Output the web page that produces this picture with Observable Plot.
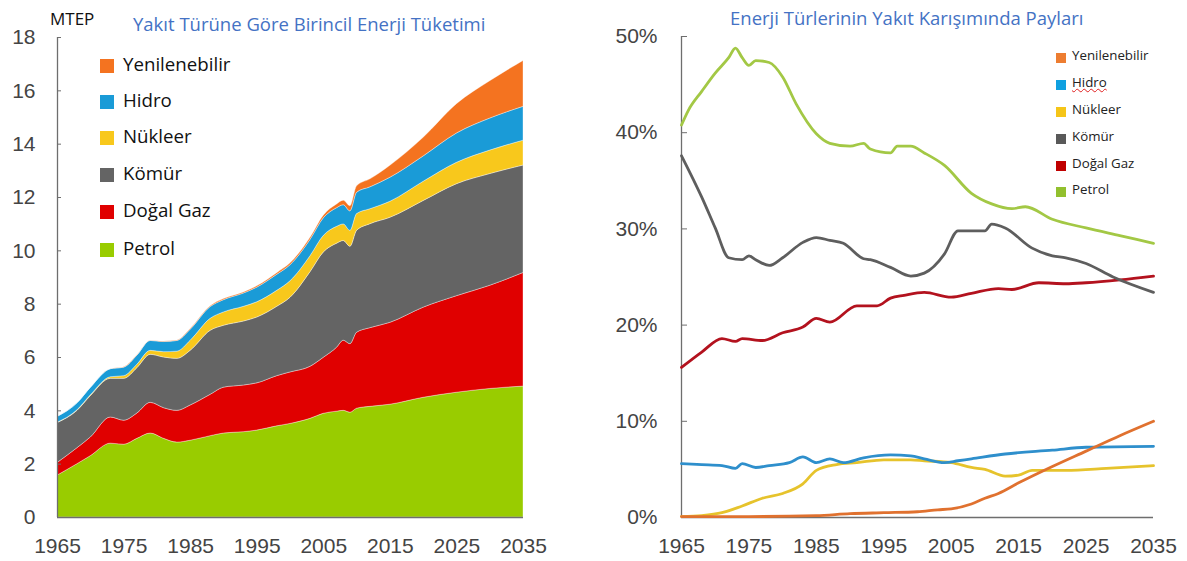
<!DOCTYPE html>
<html><head><meta charset="utf-8">
<script src="https://cdn.jsdelivr.net/npm/d3@7"></script>
<script src="https://cdn.jsdelivr.net/npm/@observablehq/plot@0.6"></script>
<style>
body{margin:0;background:#fff;}
#wrap{position:relative;width:1187px;height:561px;overflow:hidden;font-family:"Open Sans",sans-serif;}
#left{position:absolute;left:0;top:0;}
#right{position:absolute;left:590px;top:0;}
.title{position:absolute;color:#4472c4;font-size:18.5px;white-space:nowrap;line-height:1;}
.leg{position:absolute;white-space:nowrap;line-height:1;}
.sq{position:absolute;}
</style></head><body>
<div id="wrap">
  <div id="left"></div>
  <div id="right"></div>
</div>
<script>
// ---------- Left chart: primary energy consumption by fuel (MTEP) ----------
const seriesNames = ["Petrol", "Doğal Gaz", "Kömür", "Nükleer", "Hidro", "Yenilenebilir"];
const areaColors = ["#99cc00", "#e00000", "#646464", "#f8c81c", "#1a9bd7", "#f47320"];
const years = [1965,1968,1970,1973,1975,1977,1979,1981,1983,1985,1988,1990,1993,1995,1998,2000,2003,2005,2007,2008,2009,2010,2012,2015,2020,2025,2030,2035];
const petrol  = [1.57,2.0,2.3,2.77,2.73,2.95,3.15,2.95,2.81,2.88,3.05,3.15,3.2,3.26,3.42,3.51,3.7,3.89,3.97,4.0,3.93,4.08,4.15,4.23,4.49,4.68,4.82,4.91];
const gas     = [0.47,0.6,0.7,0.98,0.9,0.95,1.15,1.15,1.19,1.32,1.55,1.72,1.75,1.77,1.88,1.93,1.95,2.1,2.4,2.63,2.57,2.85,2.95,3.07,3.38,3.62,3.87,4.26];
const coal    = [1.5,1.4,1.55,1.45,1.57,1.7,1.8,1.9,1.95,2.05,2.4,2.32,2.4,2.47,2.6,2.8,3.55,3.95,3.9,3.74,3.65,3.82,3.9,3.94,4.0,4.2,4.19,4.03];
const nuclear = [0.01,0.02,0.03,0.06,0.1,0.13,0.15,0.2,0.27,0.38,0.45,0.5,0.55,0.57,0.6,0.62,0.6,0.62,0.63,0.62,0.6,0.63,0.56,0.6,0.72,0.8,0.88,0.93];
const hydro   = [0.22,0.26,0.28,0.3,0.32,0.34,0.37,0.38,0.4,0.41,0.44,0.46,0.5,0.55,0.6,0.6,0.61,0.66,0.7,0.72,0.73,0.8,0.82,0.9,0.95,1.1,1.2,1.27];
const renew   = [0,0,0,0,0.01,0.01,0.01,0.02,0.02,0.03,0.03,0.04,0.04,0.05,0.06,0.07,0.08,0.1,0.14,0.17,0.19,0.24,0.3,0.45,0.7,1.1,1.4,1.72];
const xTicks = [1965,1975,1985,1995,2005,2015,2025,2035];
const yTicksLeft = [0,2,4,6,8,10,12,14,16,18];

// ---------- Right chart: shares in fuel mix (%) ----------
const lineColors = ["#a3c845", "#b3121e", "#5e5e5e", "#e6c32c", "#2e8fcc", "#e0712f"];
const legendRightColors = ["#92c02e", "#c00000", "#595959", "#f5c518", "#0fa0e0", "#ed7d31"];
const petrolShareYears = [1965,1966,1968,1970,1972,1973,1974,1975,1976,1978,1980,1982,1985,1987,1990,1992,1993,1996,1997,1999,2001,2004,2008,2011,2014,2016,2020,2025,2030,2035];
const petrolShare      = [40.8,42.3,44.3,46.2,47.8,48.8,47.8,47.0,47.5,47.3,45.8,43.0,39.9,38.9,38.6,38.9,38.3,37.9,38.6,38.6,37.9,36.6,33.7,32.6,32.1,32.3,31.0,30.1,29.3,28.5];
const gasShareYears = [1965,1968,1971,1973,1974,1977,1980,1983,1985,1987,1991,1994,1996,1998,2001,2005,2008,2012,2014,2018,2022,2025,2030,2035];
const gasShare      = [15.6,17.2,18.6,18.3,18.6,18.4,19.2,19.8,20.7,20.3,22.0,22.0,22.8,23.1,23.4,22.9,23.3,23.8,23.7,24.4,24.3,24.4,24.7,25.1];
const coalShareYears = [1965,1968,1970,1972,1974,1975,1976,1978,1980,1983,1985,1987,1989,1992,1993,1996,1999,2001,2004,2006,2008,2010,2011,2013,2017,2020,2022,2025,2029,2035];
const coalShare      = [37.6,33.3,30.1,27.0,26.8,27.2,26.8,26.2,27.0,28.6,29.1,28.8,28.5,26.9,26.8,26.0,25.1,25.4,27.4,29.8,29.8,29.8,30.5,30.1,28.0,27.2,27.0,26.4,25.0,23.4];
const nuclearShareYears = [1965,1968,1971,1974,1977,1980,1983,1985,1988,1991,1995,1999,2001,2005,2008,2010,2013,2015,2017,2022,2028,2035];
const nuclearShare      = [0.1,0.2,0.5,1.2,2.0,2.5,3.5,4.9,5.5,5.7,6.0,6.0,5.9,5.7,5.2,5.0,4.3,4.4,4.9,4.9,5.1,5.4];
const hydroShareYears = [1965,1968,1971,1973,1974,1976,1978,1981,1983,1985,1987,1989,1992,1996,1999,2001,2004,2006,2008,2013,2020,2025,2035];
const hydroShare      = [5.6,5.5,5.4,5.1,5.6,5.2,5.4,5.7,6.3,5.7,6.1,5.7,6.2,6.5,6.4,6.1,5.7,5.9,6.1,6.6,7.0,7.3,7.4];
const renewShareYears = [1965,1975,1985,1990,1995,2000,2003,2005,2008,2010,2012,2015,2020,2025,2030,2035];
const renewShare      = [0.1,0.1,0.2,0.4,0.5,0.6,0.8,0.9,1.4,2.0,2.5,3.6,5.3,6.9,8.5,10.0];
const yTicksRight = [0,10,20,30,40,50];

// build tables
const leftSeries = [petrol, gas, coal, nuclear, hydro, renew];
const leftData = [];
seriesNames.forEach((name, i) => years.forEach((yr, j) => leftData.push({year: yr, value: leftSeries[i][j], series: name})));

const rightPairs = [[petrolShareYears, petrolShare],[gasShareYears, gasShare],[coalShareYears, coalShare],[nuclearShareYears, nuclearShare],[hydroShareYears, hydroShare],[renewShareYears, renewShare]];
const rightData = [];
seriesNames.forEach((name, i) => rightPairs[i][0].forEach((yr, j) => rightData.push({year: yr, share: rightPairs[i][1][j], series: name})));

const axisStyle = {fontFamily: "'Liberation Sans', Arial, sans-serif", fontSize: "21px", color: "#444", background: "transparent", overflow: "visible"};

const left = Plot.plot({
  width: 590, height: 561,
  marginLeft: 57, marginRight: 67, marginTop: 37, marginBottom: 44,
  style: axisStyle,
  x: {domain: [1965, 2035], label: null},
  y: {domain: [0, 18], label: null},
  color: {domain: seriesNames, range: areaColors},
  marks: [
    Plot.areaY(leftData, {x: "year", y: "value", fill: "series", order: seriesNames, curve: "monotone-x", stroke: "#ffffff", strokeOpacity: 0.45, strokeWidth: 0.8}),
    Plot.ruleX([1965], {stroke: "#6e6e6e", strokeWidth: 1.3}),
    Plot.ruleY([0], {stroke: "#6e6e6e", strokeWidth: 1.3}),
    Plot.axisY({ticks: yTicksLeft, tickSize: 4, dx: 4, text: null, stroke: "#6e6e6e", label: null}),
    Plot.axisY({ticks: yTicksLeft, tickSize: 0, tickPadding: 22, tickFormat: d => String(d), label: null}),
    Plot.axisX({ticks: xTicks, tickSize: 0, tickPadding: 21, tickFormat: d => String(d), label: null})
  ]
});
document.getElementById("left").appendChild(left);

const right = Plot.plot({
  width: 597, height: 561,
  marginLeft: 91, marginRight: 34, marginTop: 36, marginBottom: 44,
  style: axisStyle,
  x: {domain: [1965, 2035], label: null},
  y: {domain: [0, 50], label: null},
  color: {domain: seriesNames, range: lineColors},
  marks: [
    Plot.ruleX([1965], {stroke: "#6e6e6e", strokeWidth: 1.3}),
    Plot.ruleY([0], {stroke: "#6e6e6e", strokeWidth: 1.3}),
    Plot.axisY({ticks: yTicksRight, tickSize: 6, dx: 6, text: null, stroke: "#6e6e6e", label: null}),
    Plot.axisY({ticks: yTicksRight, tickSize: 0, tickPadding: 24, tickFormat: d => d + "%", label: null}),
    Plot.axisX({ticks: xTicks, tickSize: 0, tickPadding: 21, tickFormat: d => String(d), label: null}),
    Plot.line(rightData, {x: "year", y: "share", z: "series", stroke: "series", strokeWidth: 2.8, curve: "monotone-x"})
  ]
});
document.getElementById("right").appendChild(right);

// ---------- titles, unit, legends (HTML text) ----------
const wrap = document.getElementById("wrap");
function addDiv(cls, css, text) {
  const d = document.createElement("div");
  d.className = cls;
  Object.assign(d.style, css);
  if (text !== undefined) d.textContent = text;
  wrap.appendChild(d);
  return d;
}
addDiv("title", {left: "133px", top: "15px"}, "Yakıt Türüne Göre Birincil Enerji Tüketimi");
addDiv("title", {left: "730px", top: "9px"}, "Enerji Türlerinin Yakıt Karışımında Payları");
addDiv("leg", {left: "50px", top: "10px", fontSize: "17px", color: "#111"}, "MTEP");

const legendOrder = ["Yenilenebilir", "Hidro", "Nükleer", "Kömür", "Doğal Gaz", "Petrol"];
const leftRows = [66, 102, 138, 175, 212, 250];
legendOrder.forEach((name, i) => {
  const c = areaColors[seriesNames.indexOf(name)];
  addDiv("sq", {left: "100px", top: (leftRows[i] - 7) + "px", width: "14px", height: "14px", background: c});
  addDiv("leg", {left: "123px", top: (leftRows[i] - 11) + "px", fontSize: "18.7px", color: "#111"}, name);
});
const rightRows = [58, 85, 112, 139, 166, 192];
legendOrder.forEach((name, i) => {
  const c = legendRightColors[seriesNames.indexOf(name)];
  addDiv("sq", {left: "1056px", top: (rightRows[i] - 5) + "px", width: "10px", height: "10px", background: c});
  const t = addDiv("leg", {left: "1072px", top: (rightRows[i] - 9) + "px", fontSize: "13.3px", color: "#222"}, name);
  if (name === "Hidro") { t.style.textDecoration = "underline wavy #e02020"; t.style.textDecorationThickness = "1px"; }
});
</script>
</body></html>
